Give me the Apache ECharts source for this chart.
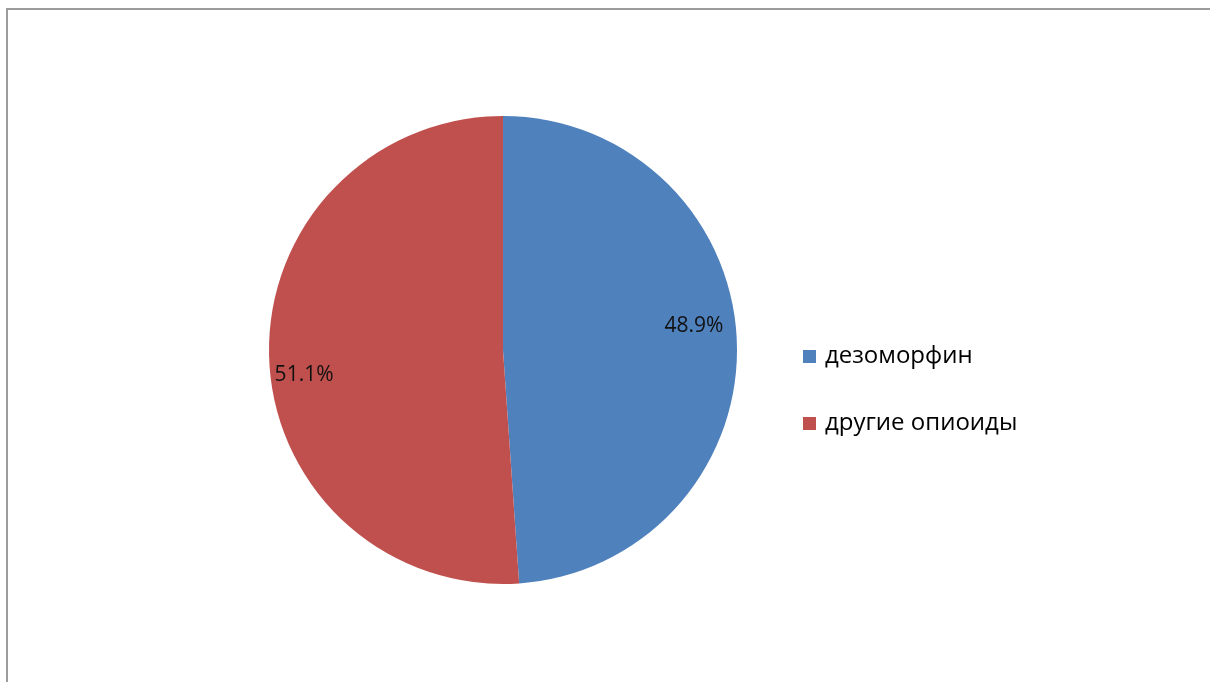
<!DOCTYPE html>
<html>
<head>
<meta charset="utf-8">
<script src="https://cdn.jsdelivr.net/npm/echarts@6/dist/echarts.min.js"></script>
<style>
html,body{margin:0;padding:0;background:#fff;}
#wrap{position:relative;width:1210px;height:682px;overflow:hidden;}
#frame{position:absolute;left:6px;top:8px;width:1300px;height:800px;border-left:2px solid #9c9c9c;border-top:2px solid #9c9c9c;box-sizing:border-box;}
#chart{position:absolute;left:0;top:0;width:1210px;height:682px;}
</style>
</head>
<body>
<div id="wrap"><div id="frame"></div><div id="chart"></div></div>
<script>
const categories = ['дезоморфин', 'другие опиоиды'];
const values = [48.9, 51.1];
const colors = ['#4F81BD', '#C0504D'];

const chart = echarts.init(document.getElementById('chart'), null, {renderer: 'canvas'});
const labelShift = [[71, -20], [-79, 21]];
chart.setOption({
  animation: false,
  color: colors,
  legend: {
    orient: 'vertical',
    left: 798,
    top: 337,
    itemWidth: 13,
    itemHeight: 13,
    itemGap: 38,
    icon: 'rect',
    data: categories,
    textStyle: {fontFamily: 'Open Sans', fontSize: 24, color: '#000', lineHeight: 29, padding: [0,0,0,4]}
  },
  series: [{
    type: 'pie',
    center: [503, 350],
    radius: [0, 234],
    startAngle: 90,
    clockwise: true,
    avoidLabelOverlap: false,
    itemStyle: {borderWidth: 0},
    label: {
      show: true,
      position: 'inside',
      fontFamily: 'Open Sans',
      fontSize: 21,
      color: '#111',
      formatter: p => p.value.toFixed(1) + '%'
    },
    labelLayout: function (params) {
      const s = labelShift[params.dataIndex];
      return {dx: s[0], dy: s[1]};
    },
    emphasis: {disabled: true},
    data: categories.map((c, i) => ({name: c, value: values[i]}))
  }]
});
</script>
</body>
</html>
